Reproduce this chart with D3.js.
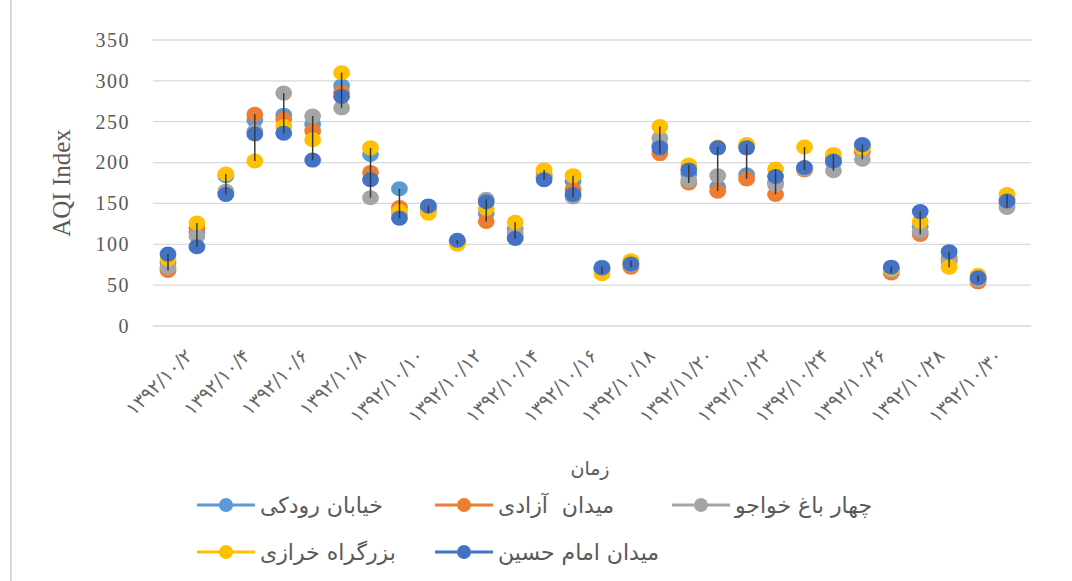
<!DOCTYPE html>
<html>
<head>
<meta charset="utf-8">
<script src="https://cdn.jsdelivr.net/npm/d3@7"></script>
<style>
  body { margin: 0; background: #fff; }
  svg { display: block; }
  text { white-space: pre; }
</style>
</head>
<body>
<div id="chart"></div>
<script>
"use strict";

// dates (labels show every other one, same as the original sheet)
const categories = [
    "۱۳۹۲/۱۰/۱", "۱۳۹۲/۱۰/۲", "۱۳۹۲/۱۰/۳", "۱۳۹۲/۱۰/۴", "۱۳۹۲/۱۰/۵",
    "۱۳۹۲/۱۰/۶", "۱۳۹۲/۱۰/۷", "۱۳۹۲/۱۰/۸", "۱۳۹۲/۱۰/۹", "۱۳۹۲/۱۰/۱۰",
    "۱۳۹۲/۱۰/۱۱", "۱۳۹۲/۱۰/۱۲", "۱۳۹۲/۱۰/۱۳", "۱۳۹۲/۱۰/۱۴", "۱۳۹۲/۱۰/۱۵",
    "۱۳۹۲/۱۰/۱۶", "۱۳۹۲/۱۰/۱۷", "۱۳۹۲/۱۰/۱۸", "۱۳۹۲/۱۰/۱۹", "۱۳۹۲/۱۱/۲۰",
    "۱۳۹۲/۱۰/۲۱", "۱۳۹۲/۱۰/۲۲", "۱۳۹۲/۱۰/۲۳", "۱۳۹۲/۱۰/۲۴", "۱۳۹۲/۱۰/۲۵",
    "۱۳۹۲/۱۰/۲۶", "۱۳۹۲/۱۰/۲۷", "۱۳۹۲/۱۰/۲۸", "۱۳۹۲/۱۰/۲۹", "۱۳۹۲/۱۰/۳۰"
];

const rudaki   = [78, 115, 184, 252, 258, 247, 294, 210, 168, 145, 104, 138, 118, 186, 177, 72, 77, 221, 186, 170, 185, 176, 193, 200, 219, 70, 122, 80, 58, 155];
const azadi    = [68, 120, 163, 259, 253, 239, 286, 188, 145, 143, 102, 128, 110, 183, 167, 68, 72, 211, 175, 165, 180, 161, 191, 205, 213, 65, 112, 83, 54, 150];
const khajoo   = [72, 110, 165, 238, 285, 257, 267, 157, 137, 142, 103, 155, 114, 182, 158, 70, 75, 230, 178, 184, 221, 173, 192, 190, 204, 68, 116, 79, 57, 145];
const kharazi  = [82, 126, 186, 202, 244, 228, 310, 218, 140, 138, 100, 144, 127, 191, 184, 64, 80, 244, 197, 219, 222, 192, 219, 210, 218, 70, 128, 72, 62, 161];
const hossein  = [88, 97, 161, 235, 236, 203, 281, 179, 132, 147, 105, 152, 107, 179, 161, 71, 76, 218, 191, 218, 218, 183, 194, 202, 222, 72, 140, 91, 59, 153];

const seriesNames = ["خیابان رودکی", "میدان  آزادی", "چهار باغ خواجو", "بزرگراه خرازی", "میدان امام حسین"];
const yTicks = [0, 50, 100, 150, 200, 250, 300, 350];

const series = [
    { name: seriesNames[0], values: rudaki,  color: "#5B9BD5" },
    { name: seriesNames[1], values: azadi,   color: "#ED7D31" },
    { name: seriesNames[2], values: khajoo,  color: "#A5A5A5" },
    { name: seriesNames[3], values: kharazi, color: "#FFC000" },
    { name: seriesNames[4], values: hossein, color: "#4472C4" }
];

const svgWidth = 1072;
const svgHeight = 581;
const plotLeft = 153, plotRight = 1031, plotTop = 40, plotBottom = 326;

const svg = d3.select("#chart")
    .append("svg")
    .attr("width", svgWidth)
    .attr("height", svgHeight);

// left border of the chart area
svg.append("line")
    .attr("x1", 11).attr("x2", 11)
    .attr("y1", 0).attr("y2", svgHeight)
    .attr("stroke", "#d9d9d9")
    .attr("stroke-width", 2);

const xScale = d3.scalePoint()
    .domain(categories)
    .range([168, 1007]);

const yScale = d3.scaleLinear()
    .domain([0, 350])
    .range([plotBottom, plotTop]);

// gridlines
svg.append("g")
    .selectAll("line")
    .data(yTicks)
    .enter().append("line")
    .attr("x1", plotLeft)
    .attr("x2", plotRight)
    .attr("y1", d => yScale(d))
    .attr("y2", d => yScale(d))
    .attr("stroke", "#d9d9d9")
    .attr("stroke-width", 1.3);

// y axis
const yAxis = svg.append("g")
    .attr("transform", `translate(${plotLeft},0)`)
    .call(d3.axisLeft(yScale).tickValues(yTicks).tickSize(0).tickPadding(23));
yAxis.select(".domain").remove();
yAxis.selectAll("text")
    .attr("font-family", "'Liberation Serif', serif")
    .attr("font-size", 20)
    .attr("letter-spacing", 1.5)
    .attr("fill", "#595959");

// x axis, rotated labels every other date
const xAxis = svg.append("g")
    .attr("transform", `translate(0,${plotBottom})`)
    .call(d3.axisBottom(xScale)
        .tickValues(categories.filter((d, i) => i % 2 === 1))
        .tickSize(0));
xAxis.select(".domain").remove();
xAxis.selectAll("text")
    .attr("font-family", "'DejaVu Sans', sans-serif")
    .attr("font-size", 19)
    .attr("fill", "#666")
    .attr("text-anchor", "end")
    .attr("y", 0)
    .attr("dy", 0)
    .attr("transform", "translate(-4,31) rotate(-45)");

// markers
series.forEach(s => {
    svg.append("g")
        .selectAll("ellipse")
        .data(s.values)
        .enter().append("ellipse")
        .attr("cx", (d, i) => xScale(categories[i]))
        .attr("cy", d => yScale(d))
        .attr("rx", 8.4)
        .attr("ry", 7.5)
        .attr("fill", s.color);
});

// high-low lines
svg.append("g")
    .selectAll("line")
    .data(categories)
    .enter().append("line")
    .attr("x1", d => xScale(d))
    .attr("x2", d => xScale(d))
    .attr("y1", (d, i) => yScale(d3.max(series, s => s.values[i])))
    .attr("y2", (d, i) => yScale(d3.min(series, s => s.values[i])))
    .attr("stroke", "#3a3a3a")
    .attr("stroke-width", 1.5);

// axis titles
svg.append("text")
    .attr("transform", "translate(70,183) rotate(-90)")
    .attr("text-anchor", "middle")
    .attr("font-family", "'Liberation Serif', serif")
    .attr("font-size", 25)
    .attr("fill", "#595959")
    .text("AQI Index");

svg.append("text")
    .attr("x", 590)
    .attr("y", 475)
    .attr("text-anchor", "middle")
    .attr("font-family", "'DejaVu Sans', sans-serif")
    .attr("font-size", 19)
    .attr("fill", "#595959")
    .text("زمان");

// legend
const legendPos = [
    { x: 197, y: 505 }, { x: 435, y: 505 }, { x: 672, y: 505 },
    { x: 197, y: 552 }, { x: 435, y: 552 }
];
const legend = svg.append("g")
    .selectAll("g")
    .data(series)
    .enter().append("g")
    .attr("transform", (d, i) => `translate(${legendPos[i].x},${legendPos[i].y})`);

legend.append("line")
    .attr("x1", 0).attr("x2", 58)
    .attr("stroke", d => d.color)
    .attr("stroke-width", 3);
legend.append("circle")
    .attr("cx", 29)
    .attr("r", 7)
    .attr("fill", d => d.color);
legend.append("text")
    .attr("x", 63)
    .attr("dy", "0.35em")
    .attr("font-family", "'DejaVu Sans', sans-serif")
    .attr("font-size", 22)
    .attr("fill", "#595959")
    .text(d => d.name);
</script>
</body>
</html>
